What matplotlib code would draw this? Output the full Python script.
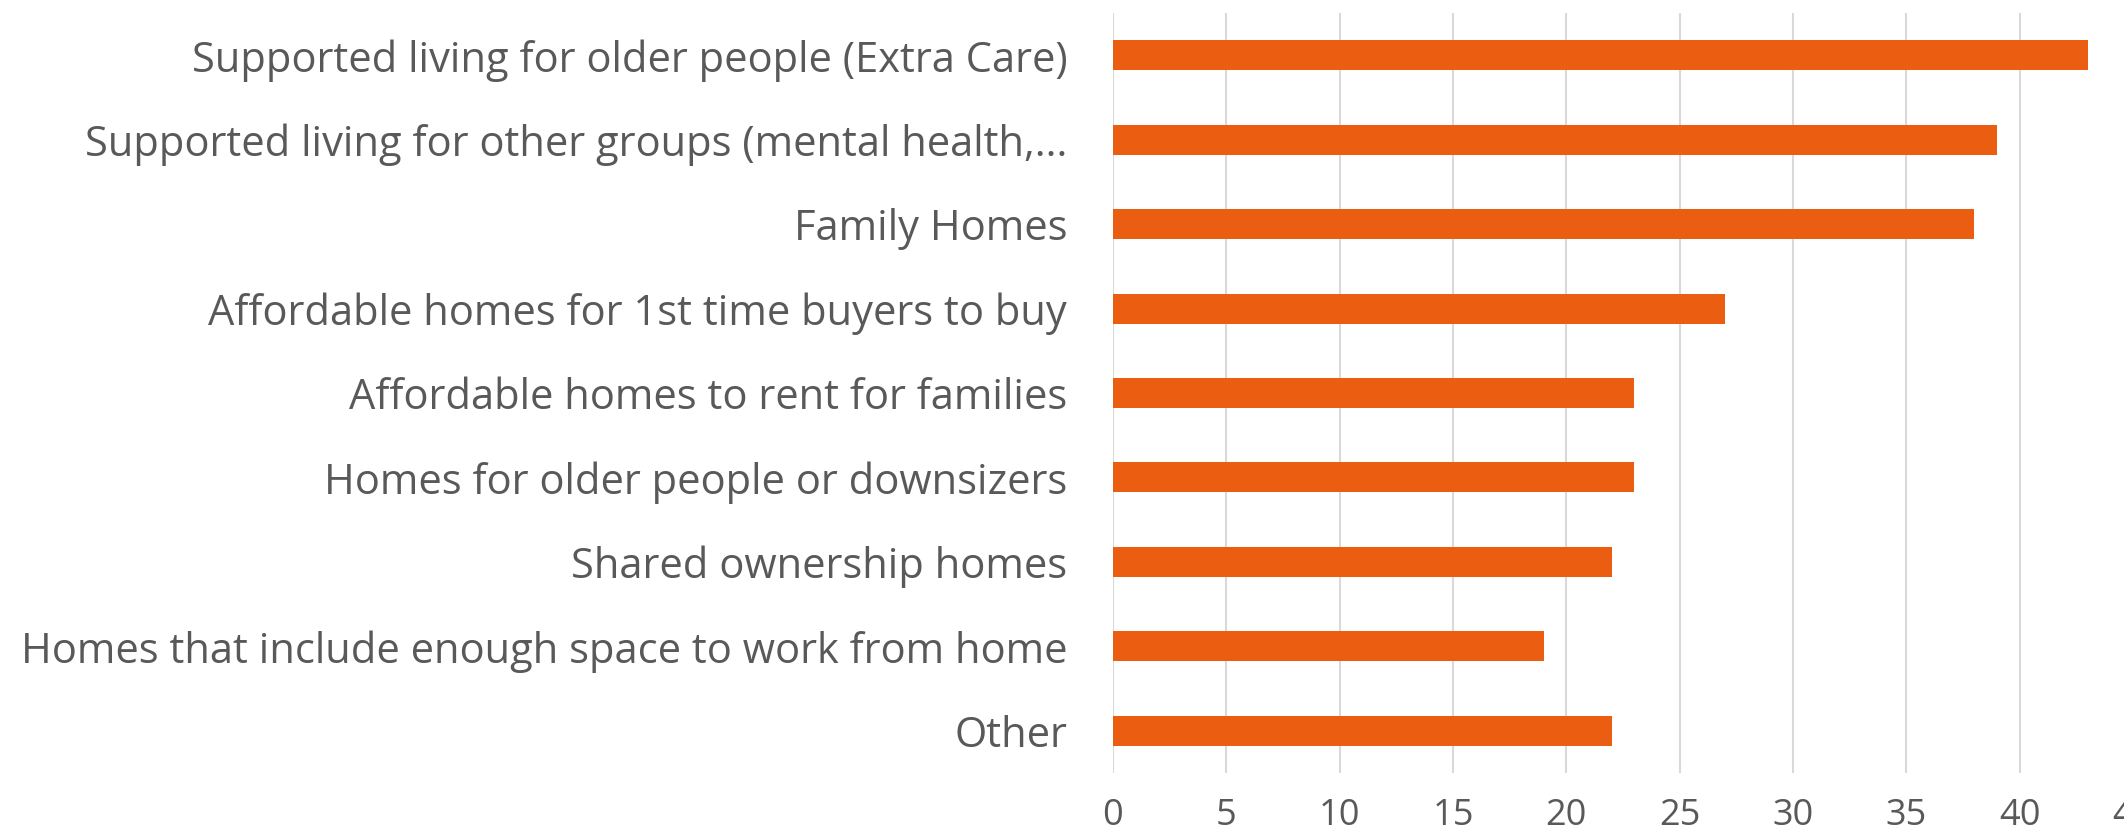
import matplotlib
matplotlib.use('Agg')
import matplotlib.pyplot as plt

# Data
categories = [
    'Supported living for older people (Extra Care)',
    'Supported living for other groups (mental health,...',
    'Family Homes',
    'Affordable homes for 1st time buyers to buy',
    'Affordable homes to rent for families',
    'Homes for older people or downsizers',
    'Shared ownership homes',
    'Homes that include enough space to work from home',
    'Other',
]
values = [43, 39, 38, 27, 23, 23, 22, 19, 22]
xticks = [0, 5, 10, 15, 20, 25, 30, 35, 40, 45]

bar_color = '#EB5E12'
text_color = '#595959'
grid_color = '#D9D9D9'

plt.rcParams['font.family'] = ['Open Sans', 'DejaVu Sans']

fig = plt.figure(figsize=(21.24, 8.35), dpi=100)
# axes runs slightly past the right edge, like the reference (45 is cut)
ax = fig.add_axes([0.524, 0.0743, 0.4803, 0.910])

y = list(range(len(categories)))
ax.barh(y, values, height=0.355, color=bar_color, zorder=3)

ax.set_xlim(0, 45)
ax.set_ylim(8.5, -0.5)
ax.set_xticks(xticks)
ax.set_yticks(y)
ax.set_yticklabels(categories, fontsize=30, color=text_color)
ax.set_xticklabels([str(t) for t in xticks], fontsize=26, color=text_color)
ax.tick_params(axis='both', length=0)
ax.tick_params(axis='y', pad=33)
ax.tick_params(axis='x', pad=18)

ax.grid(axis='x', color=grid_color, linewidth=1.5, zorder=0)
for s in ax.spines.values():
    s.set_visible(False)

fig.savefig('out.png', dpi=100)
